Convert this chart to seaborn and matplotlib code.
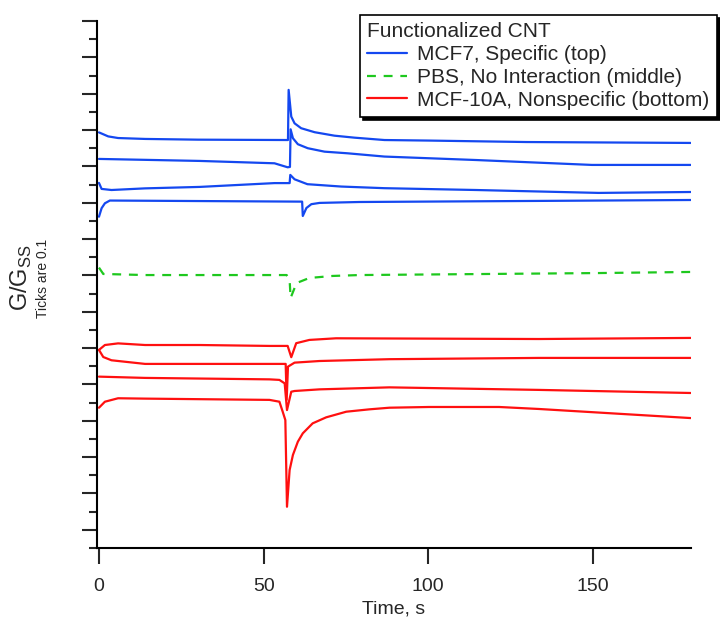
import numpy as np
import pandas as pd
import matplotlib
matplotlib.use("Agg")
import matplotlib.pyplot as plt
from matplotlib.lines import Line2D
from matplotlib.ticker import MultipleLocator
import seaborn as sns

# traces (time in s, G/Gss stacked with offsets)
mcf7_1_t = [0, 2.8, 5.8, 14, 30, 57.4, 57.6, 58.4, 59.4, 61.4, 65.5, 71.5, 77.6, 86.7, 100.3, 129.7, 179.7]
mcf7_1_g = [2.287, 2.265, 2.256, 2.251, 2.247, 2.245, 2.521, 2.374, 2.337, 2.310, 2.288, 2.269, 2.258, 2.245, 2.242, 2.234, 2.229]

mcf7_2_t = [0, 30.6, 53.3, 57.3, 58.0, 58.2, 58.9, 60.4, 63.4, 68.5, 75.5, 86.7, 114.5, 149.7, 179.7]
mcf7_2_g = [2.141, 2.130, 2.117, 2.095, 2.097, 2.304, 2.255, 2.222, 2.200, 2.181, 2.172, 2.154, 2.135, 2.108, 2.108]

mcf7_3_t = [0, 0.8, 3.8, 14, 30.6, 53.3, 57.9, 58.1, 59.4, 63.3, 73.6, 86.7, 114.5, 151.8, 179.7]
mcf7_3_g = [2.009, 1.976, 1.970, 1.979, 1.987, 2.008, 2.008, 2.053, 2.029, 2.002, 1.989, 1.980, 1.970, 1.954, 1.959]

mcf7_4_t = [0, 0.8, 1.8, 3.3, 61.7, 61.9, 63.0, 64.5, 67.0, 79.1, 179.7]
mcf7_4_g = [1.823, 1.870, 1.897, 1.912, 1.906, 1.827, 1.871, 1.892, 1.899, 1.904, 1.915]

pbs_t = [0, 1.3, 14, 57.0, 57.9, 58.2, 60.0, 63.9, 70.9, 79.1, 151.8, 179.7]
pbs_g = [1.543, 1.508, 1.502, 1.502, 1.475, 1.376, 1.458, 1.486, 1.497, 1.502, 1.513, 1.519]

mcf10a_1_t = [0, 1.8, 5.8, 14, 30.6, 51.8, 57.3, 58.4, 59.9, 63.9, 72.0, 133.6, 179.7]
mcf10a_1_g = [1.090, 1.117, 1.126, 1.117, 1.117, 1.112, 1.112, 1.050, 1.127, 1.145, 1.154, 1.150, 1.156]

mcf10a_2_t = [0, 1.3, 3.8, 14, 51.8, 56.7, 57.0, 57.4, 59.4, 67.0, 88.2, 133.6, 179.7]
mcf10a_2_g = [1.090, 1.051, 1.033, 1.013, 1.013, 1.013, 0.815, 0.998, 1.020, 1.029, 1.039, 1.046, 1.046]

mcf10a_3_t = [0, 14, 51.8, 54.8, 56.4, 57.1, 58.4, 59.4, 67.0, 88.2, 133.6, 179.7]
mcf10a_3_g = [0.943, 0.936, 0.928, 0.925, 0.906, 0.759, 0.860, 0.864, 0.873, 0.884, 0.870, 0.853]

mcf10a_4_t = [0, 1.8, 5.8, 14, 51.8, 54.8, 55.8, 56.6, 57.1, 57.9, 58.9, 60.4, 61.9, 64.9, 69.0,
              75.1, 82.1, 88.2, 100.3, 121.5, 133.6, 153.9, 179.7]
mcf10a_4_g = [0.772, 0.805, 0.824, 0.822, 0.815, 0.805, 0.750, 0.704, 0.227, 0.429, 0.512, 0.585, 0.631,
              0.686, 0.719, 0.750, 0.763, 0.772, 0.776, 0.776, 0.765, 0.743, 0.715]

labels = ["MCF7, Specific (top)", "PBS, No Interaction (middle)", "MCF-10A, Nonspecific (bottom)"]
colors = {labels[0]: "#1448f0", labels[1]: "#1ec81e", labels[2]: "#ff1010"}

traces = [
    ("b1", labels[0], mcf7_1_t, mcf7_1_g),
    ("b2", labels[0], mcf7_2_t, mcf7_2_g),
    ("b3", labels[0], mcf7_3_t, mcf7_3_g),
    ("b4", labels[0], mcf7_4_t, mcf7_4_g),
    ("g1", labels[1], pbs_t, pbs_g),
    ("r1", labels[2], mcf10a_1_t, mcf10a_1_g),
    ("r2", labels[2], mcf10a_2_t, mcf10a_2_g),
    ("r3", labels[2], mcf10a_3_t, mcf10a_3_g),
    ("r4", labels[2], mcf10a_4_t, mcf10a_4_g),
]
df = pd.concat([pd.DataFrame({"trace": k, "sample": s, "t": t, "g": g}) for k, s, t, g in traces])

sns.set_style("ticks")
plt.rcParams["font.family"] = ["Liberation Sans", "DejaVu Sans"]
plt.rcParams["mathtext.fontset"] = "custom"
plt.rcParams["mathtext.rm"] = "Liberation Sans"

fig = plt.figure(figsize=(7.2, 6.23), dpi=100)
ax = fig.add_axes([97 / 720, 75 / 623, 594 / 720, 527 / 623])

dash_pat = (4, 3.5)
sns.lineplot(data=df, x="t", y="g", hue="sample", units="trace", estimator=None,
             style="sample", dashes={labels[0]: "", labels[1]: dash_pat, labels[2]: ""},
             palette=colors, linewidth=1.6, sort=False, legend=False, ax=ax)

ax.set_xlim(-0.6, 179.8)
ax.set_ylim(0, 2.9)
ax.xaxis.set_major_locator(MultipleLocator(50))
ax.yaxis.set_major_locator(MultipleLocator(0.2, offset=0.1))
ax.yaxis.set_minor_locator(MultipleLocator(0.2))
ax.set_yticklabels([])
ax.tick_params(axis="y", which="major", length=11, width=1.5, direction="out", labelleft=False)
ax.tick_params(axis="y", which="minor", length=6, width=1.5, direction="out")
ax.tick_params(axis="x", length=11.5, width=1.5, direction="out", labelsize=14, pad=10)
for side in ["top", "right"]:
    ax.spines[side].set_visible(False)
for side in ["left", "bottom"]:
    ax.spines[side].set_linewidth(1.5)
    ax.spines[side].set_color("black")

ax.set_xlabel("Time, s", fontsize=14, labelpad=4)
ax.set_ylabel("")

fig.text(21 / 720, 1 - 278 / 623, r"G/G$_\mathregular{SS}$", rotation=90, fontsize=17,
         ha="center", va="center")
fig.text(43 / 720, 1 - 278 / 623, "Ticks are 0.1", rotation=90, fontsize=10,
         ha="center", va="center")

handles = [
    Line2D([], [], color=colors[labels[0]], lw=1.6),
    Line2D([], [], color=colors[labels[1]], lw=1.6, dashes=dash_pat),
    Line2D([], [], color=colors[labels[2]], lw=1.6),
]
leg = ax.legend(handles, labels, title="Functionalized CNT", loc="upper right",
                bbox_to_anchor=(717 / 720, 1 - 15 / 623), bbox_transform=fig.transFigure,
                fontsize=15, title_fontsize=15, alignment="left", frameon=True,
                fancybox=False, shadow={"color": "black", "alpha": 1},
                handlelength=1.9, handletextpad=0.5, labelspacing=0.18,
                borderpad=0.35, borderaxespad=0)
leg.get_frame().set_edgecolor("black")
leg.get_frame().set_linewidth(1.2)

fig.savefig("out.png", dpi=100)
